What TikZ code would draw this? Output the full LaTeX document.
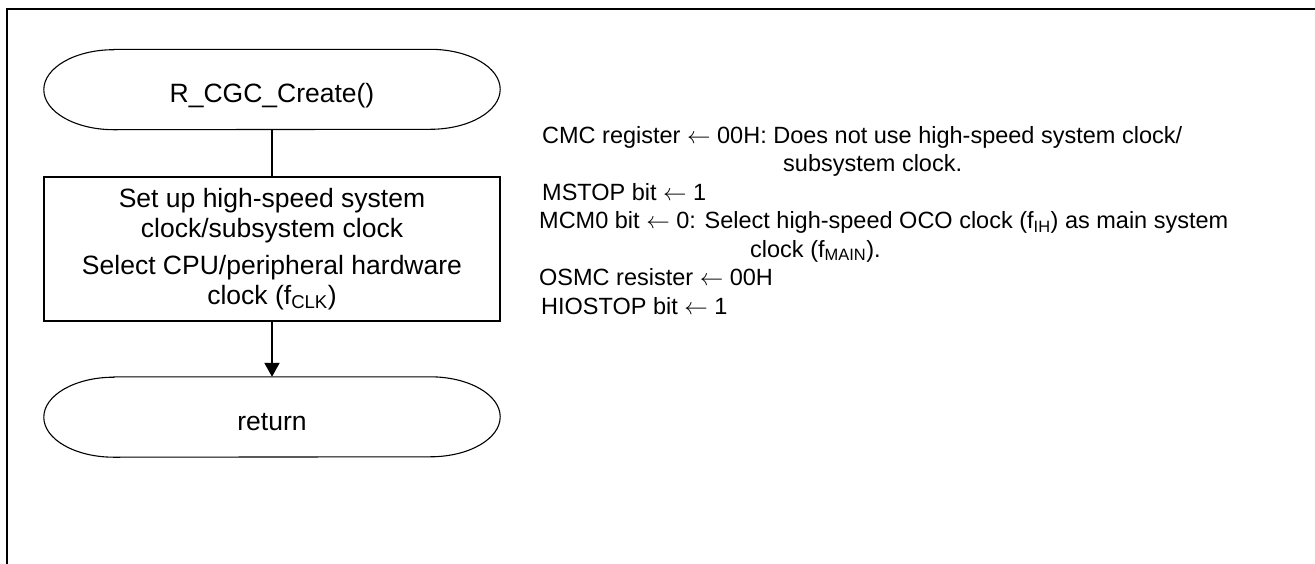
\RequirePackage{fix-cm}
\documentclass[tikz,border=0pt]{standalone}
\usepackage{fontspec}
\setmainfont{Liberation Sans}
\usetikzlibrary{arrows.meta}

% Outline of a terminal (start / end) symbol: straight top and bottom, elliptical ends
\newcommand{\stadiumoutline}[1]{%
  \draw[termline] ([xshift=70pt]#1.north west) -- ([xshift=-70pt]#1.north east)
    arc[start angle=90, end angle=-90, x radius=70pt, y radius=40pt]
    -- ([xshift=70pt]#1.south west)
    arc[start angle=270, end angle=90, x radius=70pt, y radius=40pt] -- cycle;}

% thin assignment arrow
\newcommand{\assign}{\ensuremath{\leftarrow}}

\tikzset{
  flowfont/.style={font=\fontsize{26.5}{30}\selectfont},
  terminal/.style={flowfont, rectangle, minimum width=456pt, minimum height=80pt,
    inner sep=0pt, text height=26pt, text depth=0pt},
  termline/.style={line width=1.1pt},
  process/.style={flowfont, draw, line width=2pt, rectangle, minimum width=456pt,
    minimum height=144pt, inner sep=0pt, align=center},
  conn/.style={line width=2pt},
  note/.style={anchor=base west, inner sep=0pt, font=\fontsize{23.5}{28}\selectfont},
  frameline/.style={line width=2.6pt},
}

\begin{document}
\begin{tikzpicture}[x=1pt, y=-1pt]
  \useasboundingbox (0,0) rectangle (1315,563);

  % open frame along the left and top edges
  \draw[frameline] (7,575) -- (7,9) -- (1330,9);

  % flowchart
  \node[terminal] (start) at (272,89.5) {R\_CGC\_Create()};
  \stadiumoutline{start}

  \node[process] (setup) at (272,249)
    {Set up high-speed system\\clock/subsystem clock\\[7pt]Select CPU/peripheral hardware\\clock (f\textsubscript{CLK})};

  \node[terminal] (ret) at (272,417) {return};
  \stadiumoutline{ret}

  \draw[conn] (start.south) -- (setup.north);
  \draw[conn, -{Triangle[length=14pt, width=15pt]}] (setup.south) -- (ret.north);

  % register settings
  \node[note] (cmc)   at (542,143)   {CMC register \assign{} 00H: Does not use high-speed system clock/};
  \node[note] (cmc2)  at (783,171.5) {subsystem clock.};
  \node[note] (mstop) at (542,200)   {MSTOP bit \assign{} 1};
  \node[note] (mcm)   at (539,228.5) {MCM0 bit \assign{} 0: Select high-speed OCO clock (f\textsubscript{IH}) as main system};
  \node[note] (mcm2)  at (750,257)   {clock (f\textsubscript{MAIN}).};
  \node[note] (osmc)  at (539,285.5) {OSMC resister \assign{} 00H};
  \node[note] (hio)   at (541,314)   {HIOSTOP bit \assign{} 1};
\end{tikzpicture}
\end{document}
